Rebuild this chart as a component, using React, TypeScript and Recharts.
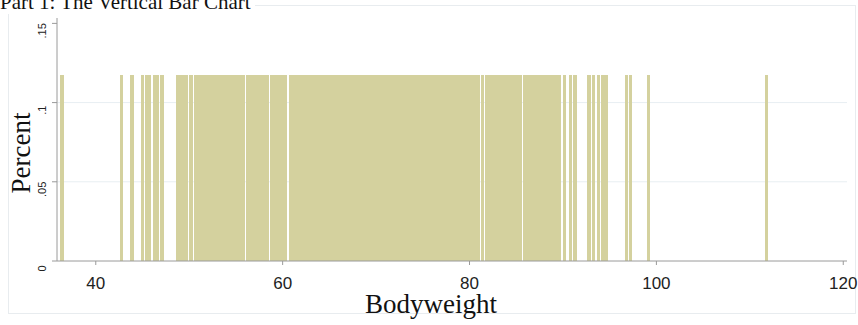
import React from 'react';
import { BarChart, Bar, XAxis, YAxis, CartesianGrid } from 'recharts';

// bodyweight values that show a bar (each one observation)
const weights = [
  36.4, 42.8, 43.9, 45.0, 45.4, 45.7, 46.3, 46.6, 47.1, 48.8, 49.1, 49.4, 49.7,
  50.2, 50.7, 51.0, 51.3,
  51.7, 52.0, 52.3, 52.6, 52.9, 53.2, 53.6, 53.9, 54.2, 54.6, 54.9, 55.2, 55.5,
  55.8, 56.3, 56.6, 56.9, 57.2, 57.5, 57.8, 58.1, 58.4, 58.8, 59.1, 59.4, 59.7,
  60.0, 60.3, 60.9, 61.2, 61.5, 61.8, 62.1, 62.4, 62.7, 63.0, 63.3, 63.6, 63.9,
  64.2, 64.5, 64.8, 65.1, 65.4, 65.7, 66.0, 66.3, 66.6, 66.9, 67.2, 67.5, 67.8,
  68.1, 68.4, 68.7, 69.0, 69.3, 69.6, 69.9, 70.2, 70.5, 70.8, 71.1, 71.4, 71.7,
  72.0, 72.3, 72.6, 72.9, 73.2, 73.5, 73.8, 74.1, 74.4, 74.7, 75.0, 75.3, 75.6,
  75.9, 76.2, 76.5, 76.8, 77.1, 77.4, 77.7, 78.0, 78.3, 78.6, 78.9, 79.2, 79.5,
  79.8, 80.1, 80.4, 80.7, 81.0, 81.4, 81.8, 82.1, 82.4, 82.7, 83.0, 83.3, 83.6,
  83.9, 84.2, 84.5, 84.8, 85.1, 85.5, 85.9, 86.2, 86.5, 86.9, 87.2, 87.5, 87.8,
  88.1, 88.4, 88.7, 89.0, 89.3, 89.6,
  90.2, 90.8, 91.3, 92.8, 93.3, 93.8, 94.3, 94.7, 96.8, 97.2, 99.2, 111.8,
];
const barPercent = 0.1176;

const xTicks = [40, 60, 80, 100, 120];
const yTicks = [0, 0.05, 0.1, 0.15];
const yTickLabels = ['0', '.05', '.1', '.15'];

const data = weights.map((w) => ({ w, pct: barPercent }));

const BAR_COLOR = '#d4d19e';
const AXIS_COLOR = '#9a9a9a';
const SERIF = "'Liberation Serif', 'Times New Roman', serif";
const SANS = "'Liberation Sans', Arial, sans-serif";

// fixed ~3px wide bar centred on the value
const ThinBar = (props: any) => {
  const { x, y, width, height } = props;
  if (height == null || height <= 0) return null;
  const cx = x + width / 2;
  return (
    <rect x={cx - 1.6} y={y} width={3.2} height={height} fill={BAR_COLOR} shapeRendering="crispEdges" />
  );
};

const YTick = (props: any) => {
  const { y, payload } = props;
  const idx = yTicks.indexOf(payload.value);
  const ty = y + 7.5;
  return (
    <text
      x={42}
      y={ty}
      transform={`rotate(-90, 42, ${ty})`}
      textAnchor="middle"
      dominantBaseline="central"
      fontSize={11}
      fontFamily={SANS}
      fill="#222"
    >
      {idx >= 0 ? yTickLabels[idx] : payload.value}
    </text>
  );
};

const XTick = (props: any) => {
  const { x, payload } = props;
  return (
    <text x={x} y={283} textAnchor="middle" dominantBaseline="central" fontSize={17} fontFamily={SANS} fill="#222">
      {payload.value}
    </text>
  );
};

export default function App() {
  return (
    <div style={{ position: 'absolute', left: 0, top: 0, width: 858, height: 325, background: '#fff', overflow: 'hidden' }}>
      {/* outer graph region frame */}
      <div style={{ position: 'absolute', left: 8, top: 5, width: 846, height: 307, border: '1px solid #e8ecef' }} />
      <div
        style={{
          position: 'absolute', left: 0, top: -10, background: '#fff', paddingRight: 4,
          fontFamily: SERIF, fontSize: 21, lineHeight: '24px', color: '#111', whiteSpace: 'nowrap',
        }}
      >
        Part 1: The Vertical Bar Chart
      </div>
      <div style={{ position: 'absolute', left: 0, top: 0 }}>
        <BarChart width={858} height={325} data={data} margin={{ top: 18, right: 11, left: 8, bottom: 24 }}>
          <CartesianGrid vertical={false} horizontalValues={[0.05, 0.1]} stroke="#e8eef2" />
          <XAxis
            type="number"
            dataKey="w"
            domain={[35.85, 120.4]}
            ticks={xTicks}
            allowDataOverflow
            height={40}
            tickSize={4}
            stroke={AXIS_COLOR}
            tick={<XTick />}
          />
          <YAxis
            type="number"
            domain={[0, 0.1534]}
            ticks={yTicks}
            allowDataOverflow
            width={49}
            tickSize={5}
            stroke={AXIS_COLOR}
            tick={<YTick />}
          />
          <Bar dataKey="pct" shape={<ThinBar />} isAnimationActive={false} />
          <text
            x={30}
            y={153}
            transform="rotate(-90, 30, 153)"
            textAnchor="middle"
            fontFamily={SERIF}
            fontSize={27}
            fill="#111"
          >
            Percent
          </text>
          <text x={431} y={313} textAnchor="middle" fontFamily={SERIF} fontSize={27} fill="#111">
            Bodyweight
          </text>
        </BarChart>
      </div>
    </div>
  );
}
